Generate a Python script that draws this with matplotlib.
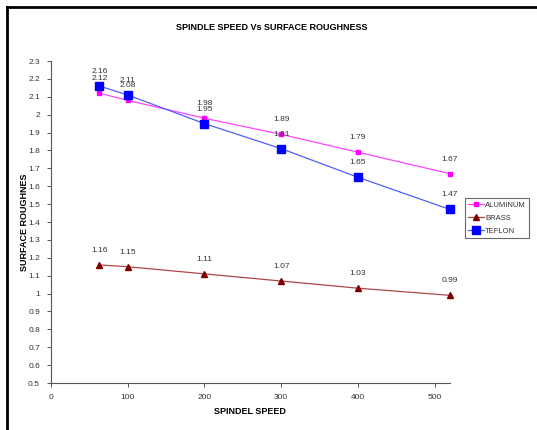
import matplotlib
matplotlib.use("Agg")
import matplotlib.pyplot as plt
from matplotlib.lines import Line2D

plt.rcParams['font.family'] = ['Liberation Sans', 'DejaVu Sans']

speed = [63, 100, 200, 300, 400, 520]
aluminum = [2.12, 2.08, 1.98, 1.89, 1.79, 1.67]
brass = [1.16, 1.15, 1.11, 1.07, 1.03, 0.99]
teflon = [2.16, 2.11, 1.95, 1.81, 1.65, 1.47]
series_names = ["ALUMINUM", "BRASS", "TEFLON"]
xticks = [0, 100, 200, 300, 400, 500]
yticks = [0.5, 0.6, 0.7, 0.8, 0.9, 1.0, 1.1, 1.2, 1.3, 1.4, 1.5, 1.6, 1.7, 1.8, 1.9, 2.0, 2.1, 2.2, 2.3]
ytick_labels = ["0.5", "0.6", "0.7", "0.8", "0.9", "1", "1.1", "1.2", "1.3", "1.4", "1.5",
                "1.6", "1.7", "1.8", "1.9", "2", "2.1", "2.2", "2.3"]

fig = plt.figure(figsize=(5.37, 4.30), dpi=100)
ax = fig.add_axes([51/537, 1-383/430, (450-51)/537, (383-61)/430])

styles = [
    dict(data=aluminum, line='#FF44FF', mc='#FF00FF', marker='s', ms=3.5),
    dict(data=brass, line='#B04848', mc='#800000', marker='^', ms=4),
    dict(data=teflon, line='#5060FF', mc='#0000FF', marker='s', ms=6),
]
handles = []
for name, st in zip(series_names, styles):
    ax.plot(speed, st['data'], color=st['line'], lw=0.9, marker=st['marker'],
            ms=st['ms'], mfc=st['mc'], mec=st['mc'], zorder=3, clip_on=False)
    handles.append(Line2D([], [], color=st['line'], lw=0.9, marker=st['marker'],
                          ms=st['ms'], mfc=st['mc'], mec=st['mc'], label=name))
    for x, y in zip(speed, st['data']):
        ax.annotate(f"{y:g}", (x, y), xytext=(0, 8), textcoords='offset points',
                    ha='center', va='bottom', fontsize=6, color='#333333', zorder=4)

ax.set_xlim(0, 520)
ax.set_ylim(0.5, 2.3)
ax.set_xticks(xticks)
ax.set_xticklabels([str(t) for t in xticks])
ax.set_yticks(yticks)
ax.set_yticklabels(ytick_labels)
for s in ['top', 'right']:
    ax.spines[s].set_visible(False)
for s in ['left', 'bottom']:
    ax.spines[s].set_color('#555555')
    ax.spines[s].set_linewidth(0.8)
ax.tick_params(axis='both', direction='out', length=3, width=0.7, color='#555555',
               labelsize=6, labelcolor='#333333', pad=5)

ax.set_xlabel("SPINDEL SPEED", fontsize=6.5, fontweight='bold')
ax.set_ylabel("SURFACE ROUGHNES", fontsize=6.5, fontweight='bold')
ax.xaxis.set_label_coords((250-51)/399, -(411-383)/322)
ax.yaxis.set_label_coords((25-51)/399, (383-222)/322)
ax.xaxis.label.set_va('center')
ax.yaxis.label.set_va('center')
fig.text(272/537, 1-27/430, "SPINDLE SPEED Vs SURFACE ROUGHNESS", ha='center', va='center',
         fontsize=6.5, fontweight='bold')

leg = fig.legend(handles=handles, loc='upper left', bbox_to_anchor=(465/537, 1-198/430),
                 fontsize=5.5, frameon=True, fancybox=False, edgecolor='#444444',
                 handlelength=2.0, borderpad=0.45, labelspacing=0.75, handletextpad=0.2,
                 borderaxespad=0)
leg.get_frame().set_linewidth(0.8)
for t in leg.get_texts():
    t.set_color('#333333')

# outer border lines
fig.add_artist(Line2D([7/537, 7/537], [0, 1-7/430], color='black', lw=2, transform=fig.transFigure))
fig.add_artist(Line2D([7/537, 1], [1-7/430, 1-7/430], color='black', lw=2, transform=fig.transFigure))

fig.savefig("out.png", dpi=100)
